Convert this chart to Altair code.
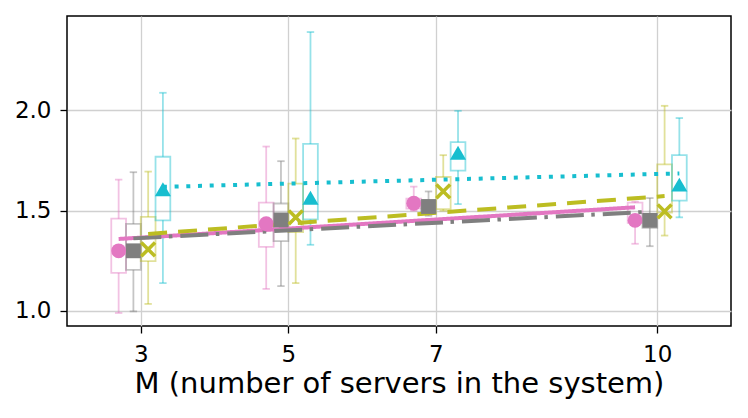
import altair as alt
import pandas as pd

# ---- data ----
M = [3, 5, 7, 10]
series = ["s1", "s2", "s3", "s4"]
colors = ["#e377c2", "#7f7f7f", "#bcbd22", "#17becf"]
offsets = [-0.3, -0.1, 0.1, 0.3]

lo = {
    "s1": [0.99, 1.11, 1.50, 1.335],
    "s2": [0.998, 1.124, 1.475, 1.323],
    "s3": [1.035, 1.139, 1.50, 1.376],
    "s4": [1.139, 1.33, 1.533, 1.467],
}
q1 = {
    "s1": [1.19, 1.32, 1.51, 1.44],
    "s2": [1.205, 1.348, 1.49, 1.414],
    "s3": [1.249, 1.393, 1.508, 1.49],
    "s4": [1.452, 1.457, 1.70, 1.55],
}
q3 = {
    "s1": [1.46, 1.54, 1.56, 1.54],
    "s2": [1.434, 1.536, 1.55, 1.484],
    "s3": [1.469, 1.635, 1.668, 1.731],
    "s4": [1.769, 1.833, 1.842, 1.777],
}
hi = {
    "s1": [1.655, 1.82, 1.62, 1.545],
    "s2": [1.692, 1.747, 1.596, 1.563],
    "s3": [1.695, 1.86, 1.777, 2.023],
    "s4": [2.088, 2.391, 1.998, 1.962],
}
mean = {
    "s1": [1.30, 1.435, 1.537, 1.452],
    "s2": [1.30, 1.454, 1.521, 1.452],
    "s3": [1.307, 1.467, 1.596, 1.497],
    "s4": [1.607, 1.565, 1.789, 1.63],
}
# fitted trend line end values (at first and last M, shifted by offset)
fit_start = {"s1": 1.359, "s2": 1.362, "s3": 1.384, "s4": 1.619}
fit_end = {"s1": 1.517, "s2": 1.495, "s3": 1.573, "s4": 1.686}

x_ticks = [3, 5, 7, 10]
y_ticks = [1.0, 1.5, 2.0]

# ---- styles ----
shapes = ["circle", "square", "M-1,-1L1,1M-1,1L1,-1", "triangle-up"]
dashes = [[1, 0], [28, 7.5, 3.5, 8], [19, 11], [4, 7.7]]

rows = []
for s, off in zip(series, offsets):
    for i, m in enumerate(M):
        rows.append(dict(series=s, M=m, off=off, lo=lo[s][i], q1=q1[s][i],
                         q3=q3[s][i], hi=hi[s][i], mean=mean[s][i]))
df = pd.DataFrame(rows)

fit_rows = []
for s, off in zip(series, offsets):
    fit_rows.append(dict(series=s, x=M[0] + off, y=fit_start[s]))
    fit_rows.append(dict(series=s, x=M[-1] + off, y=fit_end[s]))
fit_df = pd.DataFrame(fit_rows)

xscale = alt.Scale(domain=[2, 11], nice=False, zero=False)
yscale = alt.Scale(domain=[0.925, 2.471], nice=False, zero=False)
cscale = alt.Scale(domain=series, range=colors)

xaxis = alt.Axis(values=x_ticks, title="M (number of servers in the system)",
                 format="d", grid=True)
yaxis = alt.Axis(values=y_ticks, title=None, format=".1f", grid=True)

base = alt.Chart(df).transform_calculate(
    xc="datum.M + datum.off",
    xl="datum.M + datum.off - 0.1",
    xr="datum.M + datum.off + 0.1",
    cl="datum.M + datum.off - 0.05",
    cr="datum.M + datum.off + 0.05",
)

col = alt.Color("series:N", scale=cscale, legend=None)
SW = 1.8
OP = 0.45

wh_low = base.mark_rule(strokeWidth=SW, opacity=OP).encode(
    x=alt.X("xc:Q", scale=xscale, axis=xaxis),
    y=alt.Y("lo:Q", scale=yscale, axis=yaxis),
    y2="q1:Q", color=col)
wh_high = base.mark_rule(strokeWidth=SW, opacity=OP).encode(
    x=alt.X("xc:Q", scale=xscale), y=alt.Y("q3:Q", scale=yscale), y2="hi:Q", color=col)
cap_low = base.mark_rule(strokeWidth=SW, opacity=OP).encode(
    x=alt.X("cl:Q", scale=xscale), x2="cr:Q", y=alt.Y("lo:Q", scale=yscale), color=col)
cap_high = base.mark_rule(strokeWidth=SW, opacity=OP).encode(
    x=alt.X("cl:Q", scale=xscale), x2="cr:Q", y=alt.Y("hi:Q", scale=yscale), color=col)
boxes = base.mark_rect(fill="white", fillOpacity=0, strokeWidth=SW, strokeOpacity=OP).encode(
    x=alt.X("xl:Q", scale=xscale), x2="xr:Q",
    y=alt.Y("q1:Q", scale=yscale), y2="q3:Q",
    stroke=alt.Stroke("series:N", scale=cscale, legend=None))

layers = [wh_low, wh_high, cap_low, cap_high, boxes]

for s, c, d in zip(series, colors, dashes):
    line = alt.Chart(fit_df).transform_filter(alt.datum.series == s).mark_line(
        color=c, strokeWidth=4, strokeDash=d).encode(
        x=alt.X("x:Q", scale=xscale), y=alt.Y("y:Q", scale=yscale))
    layers.append(line)

for s, c, sh in zip(series, colors, shapes):
    if sh.startswith("M"):
        mk = base.transform_filter(alt.datum.series == s).mark_point(
            shape=sh, filled=False, stroke=c, strokeWidth=3.5, size=190, opacity=1)
    else:
        size = 220 if sh == "circle" else (220 if sh == "square" else 260)
        mk = base.transform_filter(alt.datum.series == s).mark_point(
            shape=sh, filled=True, color=c, size=size, opacity=1, strokeWidth=0)
    mk = mk.encode(x=alt.X("xc:Q", scale=xscale), y=alt.Y("mean:Q", scale=yscale))
    layers.append(mk)

chart = alt.layer(*layers).properties(
    width=664, height=310,
    autosize=alt.AutoSizeParams(type="none"),
    padding={"left": 59, "top": 8, "right": 9, "bottom": 84},
).configure_view(
    stroke="black", strokeWidth=1.5
).configure_axis(
    labelFont="DejaVu Sans", titleFont="DejaVu Sans",
    labelFontSize=23, labelColor="black",
    titleFontSize=29, titleFontWeight="normal", titleColor="black",
    tickColor="black", tickSize=7, tickWidth=1.3,
    domain=False,
    gridColor="#d0d0d0", gridWidth=1.3,
).configure_axisX(
    labelBaseline="alphabetic", labelPadding=28,
    titleBaseline="alphabetic", titleY=66,
).configure_axisY(
    labelPadding=9,
)

chart.save("out.html", embed_options={"renderer": "svg", "actions": False})
